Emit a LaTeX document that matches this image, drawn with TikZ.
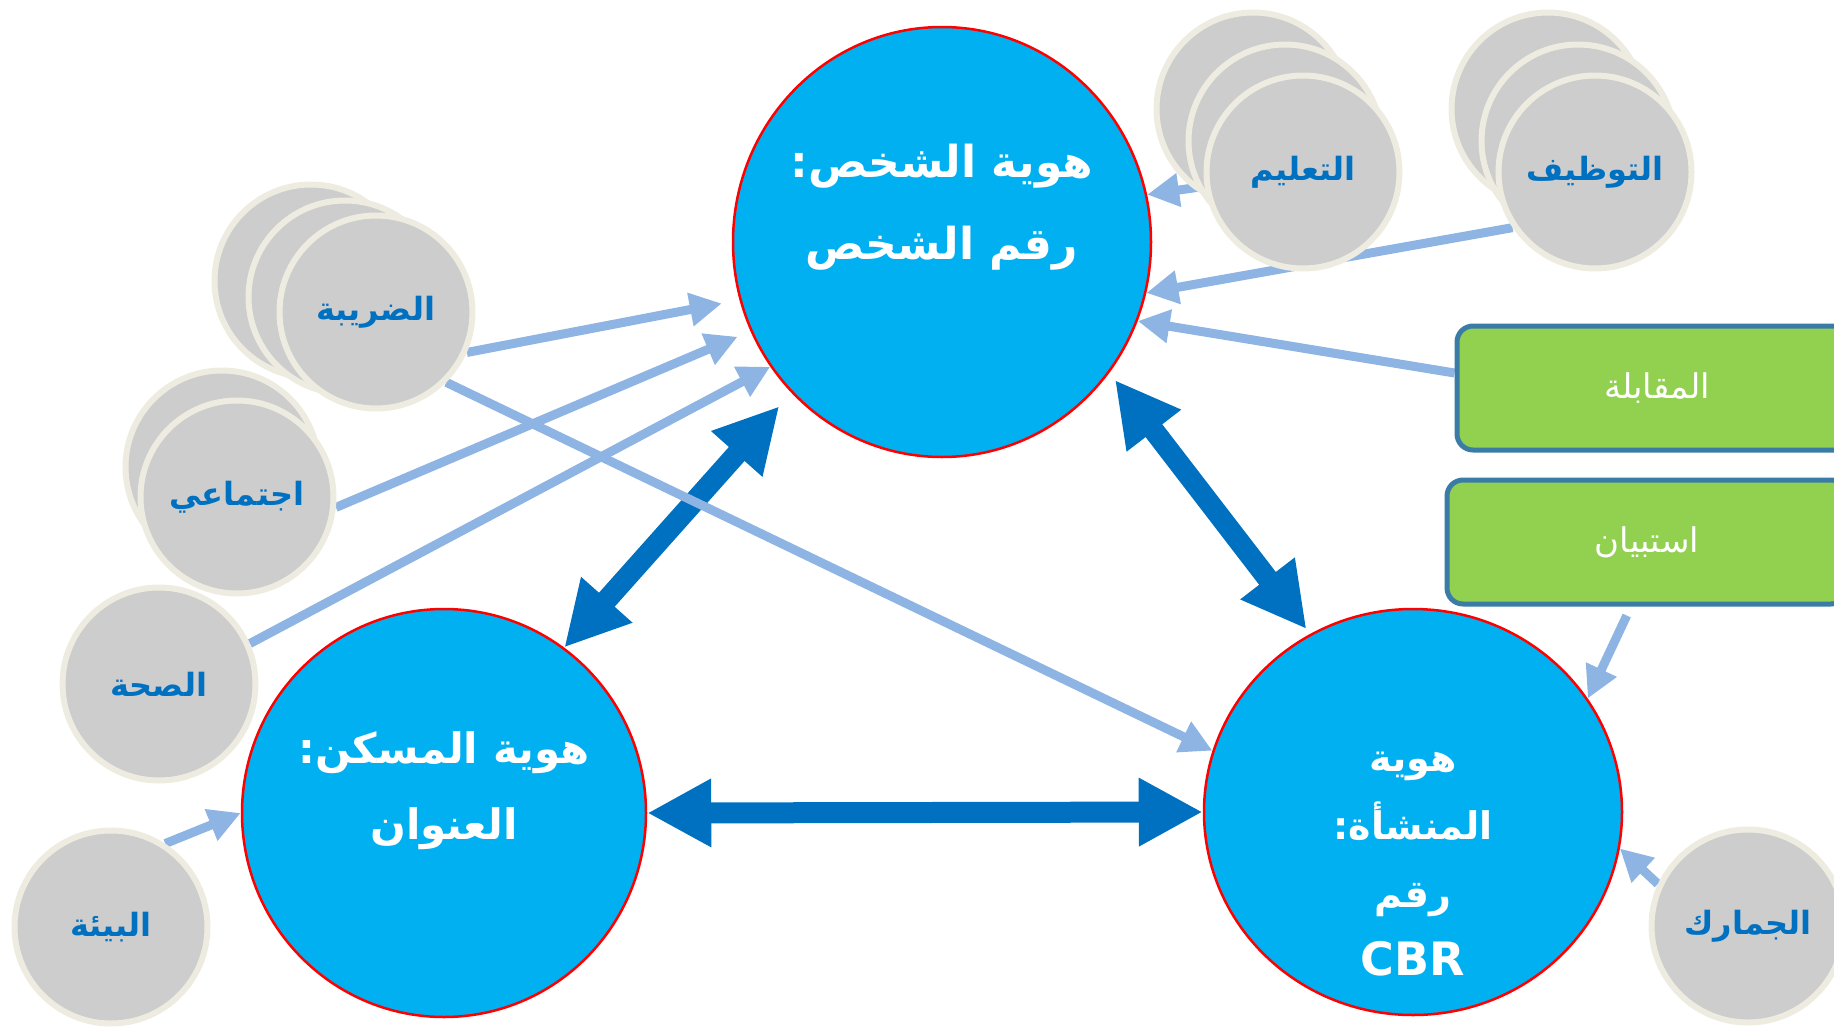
\documentclass[tikz,border=0pt]{standalone}
\usepackage{fontspec}
\setmainfont{DejaVu Sans}
\newfontfamily\arabicfont[Script=Arabic]{DejaVu Sans}
\TeXXeTstate=1
\usetikzlibrary{shapes.geometric,arrows.meta,backgrounds}
\definecolor{idblue}{HTML}{00B0F0}
\definecolor{darkarrow}{HTML}{0070C0}
\definecolor{lightarrow}{HTML}{8EB4E3}
\definecolor{grayfill}{HTML}{CDCDCD}
\definecolor{grayedge}{HTML}{EEECE1}
\definecolor{boxfill}{HTML}{92D050}
\definecolor{boxedge}{HTML}{3A7CA5}
\newcommand{\rl}[1]{\beginR #1\endR}
\begin{document}
\begin{tikzpicture}[x=1pt,y=-1pt,
    idcircle/.style={ellipse,draw=red,line width=2.5pt,fill=idblue,inner sep=0pt},
    idtext/.style={text=white,font=\arabicfont\bfseries\fontsize{44}{82}\selectfont,align=center},
    sidecircle/.style={circle,draw=grayedge,line width=6pt,fill=grayfill,minimum size=193pt,inner sep=0pt,
        text=darkarrow,font=\arabicfont\bfseries\fontsize{32}{36}\selectfont},
    sourcebox/.style={rectangle,rounded corners=16pt,draw=boxedge,line width=5pt,fill=boxfill,
        minimum width=400pt,minimum height=124pt,text=white,font=\arabicfont\fontsize{34}{40}\selectfont},
    lightline/.style={line width=9pt,draw=lightarrow,-{Triangle[length=32pt,width=32pt]}},
    darkline/.style={line width=21pt,draw=darkarrow,{Triangle[length=64pt,width=64pt]}-{Triangle[length=64pt,width=64pt]}}]
        \useasboundingbox (0,0) rectangle (1834,1026);
        \clip (0,0) rectangle (1834,1026);
        % main identities
        \node[idcircle,minimum width=418pt,minimum height=430pt] (person) at (942,242) {};
        \node[idcircle,minimum width=404pt,minimum height=408pt] (dwelling) at (444,813) {};
        \node[idcircle,minimum width=418pt,minimum height=406pt] (est) at (1413,812) {};
        \node[idtext] (persontext) at ([yshift=35pt]person.center) {\rl{هوية الشخص:}\\\rl{رقم الشخص}};
        \node[idtext,font=\arabicfont\bfseries\fontsize{42}{76}\selectfont] (dwellingtext) at ([yshift=22pt]dwelling.center) {\rl{هوية المسكن:}\\\rl{العنوان}};
        \node[idtext,font=\arabicfont\bfseries\fontsize{38}{68}\selectfont] (esttext) at ([yshift=-52pt]est.center) {\rl{هوية}\\\rl{المنشأة:}\\\rl{رقم}\\{\fontsize{46}{68}\selectfont CBR}};
        % registers
        \node[sidecircle] (taxback) at (311,281) {};
        \node[sidecircle] (taxmid) at (345,297) {};
        \node[sidecircle] (tax) at (376,312) {\rl{الضريبة}};
        \node[sidecircle] (socialback) at (222,467) {};
        \node[sidecircle] (social) at (237,497) {\rl{اجتماعي}};
        \node[sidecircle] (health) at (159,684) {\rl{الصحة}};
        \node[sidecircle] (env) at (111,927) {\rl{البيئة}};
        \node[sidecircle] (eduback) at (1253,109) {};
        \node[sidecircle] (edumid) at (1285,141) {};
        \node[sidecircle] (edu) at (1303,172) {\rl{التعليم}};
        \node[sidecircle] (empback) at (1548,109) {};
        \node[sidecircle] (empmid) at (1578,141) {};
        \node[sidecircle] (emp) at (1595,172) {\rl{التوظيف}};
        \node[sidecircle] (customs) at (1748,926) {\rl{الجمارك}};
        \node[sourcebox] (interview) at (1657,388) {\rl{المقابلة}};
        \node[sourcebox] (survey) at (1647,542) {\rl{استبيان}};
        \begin{scope}[on background layer]
            \draw[darkline,shorten <=18pt] (person.225) -- (dwelling.54);
            \draw[darkline,shorten <=9pt,shorten >=6pt] (person.322) -- (est.120);
            \draw[darkline] (dwelling.east) -- (est.west);
            \draw[lightline,shorten >=18pt] (tax.336) -- (person.196.5);
            \draw[lightline] (tax.315) -- (est.163);
            \draw[lightline,shorten >=14pt] (social.354) -- (person.205);
            \draw[lightline] (health.24) -- (person.216);
            \draw[lightline] (env.57) -- (dwelling.west);
            \draw[lightline] (edu.center) -- (person.13);
            \draw[lightline] (emp.214) -- (person.346);
            \draw[lightline] ([yshift=15pt]interview.west) -- (person.338);
            \draw[lightline,shorten <=10pt] ([xshift=-16pt]survey.south) -- (est.33);
            \draw[lightline] (customs.155) -- (est.350);
        \end{scope}
    \end{tikzpicture}
\end{document}
